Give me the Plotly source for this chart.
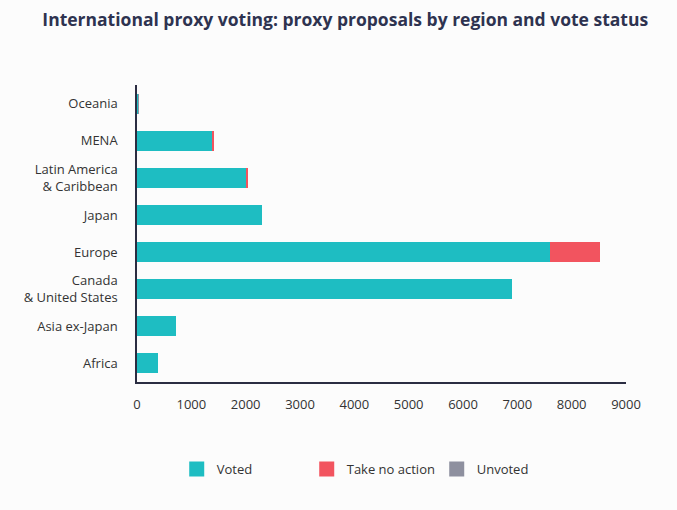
import plotly.graph_objects as go

regions = ["Africa", "Asia ex-Japan", "Canada<br>& United States", "Europe", "Japan",
           "Latin America<br>& Caribbean", "MENA", "Oceania"]
voted = [380, 710, 6900, 7600, 2300, 2010, 1385, 20]
take_no_action = [0, 0, 0, 920, 0, 40, 35, 0]
unvoted = [0, 0, 0, 0, 0, 0, 0, 4]
x_ticks = [0, 1000, 2000, 3000, 4000, 5000, 6000, 7000, 8000, 9000]

colors = {"Voted": "#1EBDC2", "Take no action": "#F2545F", "Unvoted": "#8E909F"}
series = [("Voted", voted), ("Take no action", take_no_action), ("Unvoted", unvoted)]

fig = go.Figure()
for name, vals in series:
    fig.add_trace(go.Bar(y=regions, x=vals, name=name, orientation="h", showlegend=False,
                         legendgroup=name,
                         marker=dict(color=colors[name], line=dict(width=0))))
# legend entries with larger square swatches
for name, _ in series:
    fig.add_trace(go.Scatter(x=[None], y=[None], mode="markers", name=name, legendgroup=name,
                             marker=dict(symbol="square", size=15, color=colors[name])))

fig.update_layout(
    barmode="stack",
    bargap=0.46,
    width=677, height=510,
    paper_bgcolor="#FCFCFC", plot_bgcolor="#FCFCFC",
    font=dict(family="Open Sans", size=13, color="#333333"),
    title=dict(text="<b>International proxy voting: proxy proposals by region and vote status</b>",
               x=0.51, xanchor="center", y=0.962, yanchor="middle",
               font=dict(family="Open Sans", size=17.5, color="#2E3350")),
    margin=dict(l=137, r=51, t=85, b=128),
    xaxis=dict(range=[0, 9000], tickvals=x_ticks, showgrid=False, zeroline=False,
               showline=True, linecolor="#2B2D42", linewidth=1.5,
               ticks="outside", ticklen=10, tickcolor="rgba(0,0,0,0)"),
    yaxis=dict(showgrid=False, zeroline=False, showline=True, linecolor="#2B2D42",
               linewidth=1.5, ticks="outside", ticklen=15, tickcolor="rgba(0,0,0,0)"),
    legend=dict(orientation="h", x=0.48, xanchor="center", y=-0.293, yanchor="middle",
                entrywidth=85, font=dict(size=13, color="#333333"), traceorder="normal"),
)

fig.write_html("out.html")
